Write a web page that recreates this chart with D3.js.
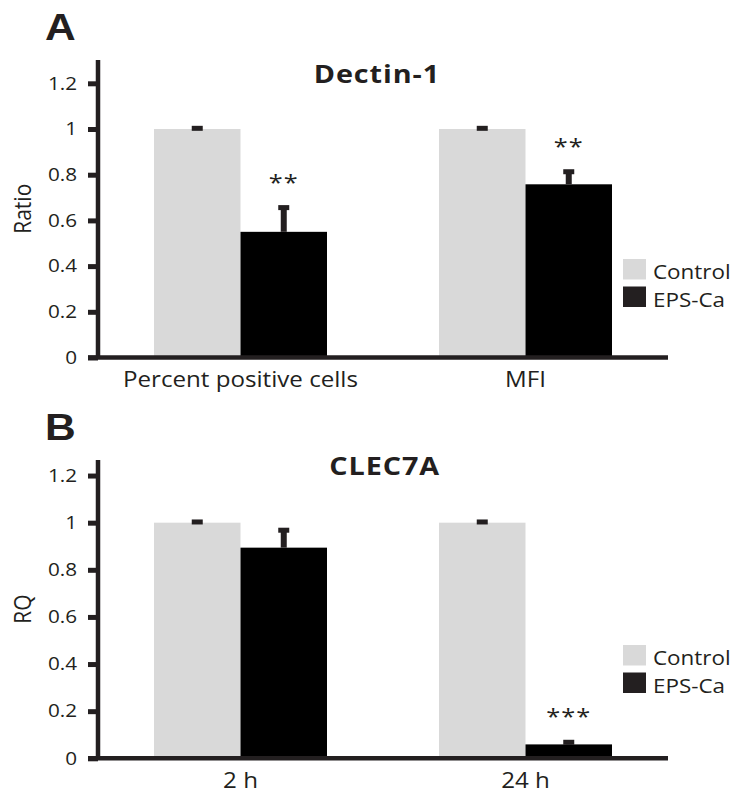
<!DOCTYPE html>
<html>
<head>
<meta charset="utf-8">
<script src="https://cdn.jsdelivr.net/npm/d3@7"></script>
<style>
  body { margin: 0; background: #fff; }
  svg text { font-family: 'Open Sans', sans-serif; fill: #231f20; }
</style>
</head>
<body>
<div id="chart"></div>
<script>
// data
const series = ['Control', 'EPS-Ca'];
const yTicks = [0, 0.2, 0.4, 0.6, 0.8, 1, 1.2];

const dectinCategories = ['Percent positive cells', 'MFI'];
const dectinControl = [1, 1];
const dectinControlErr = [0.003, 0.003];
const dectinEps = [0.55, 0.758];
const dectinEpsErr = [0.106, 0.055];
const dectinStars = ['**', '**'];

const clecCategories = ['2 h', '24 h'];
const clecControl = [1, 1];
const clecControlErr = [0.003, 0.003];
const clecEps = [0.894, 0.059];
const clecEpsErr = [0.074, 0.009];
const clecStars = ['', '***'];

// constants
const W = 739, H = 792;
const SX = 1.15; // the original figure is slightly stretched sideways
const colors = { 'Control': '#d9d9d9', 'EPS-Ca': '#000000' };
const legendColors = { 'Control': '#d9d9d9', 'EPS-Ca': '#231f20' };
const ink = '#231f20';
const left = 98, plotWidth = 570;

const panels = [
  {
    letter: 'A', title: 'Dectin-1', yLabel: 'Ratio',
    top: 60, zero: 357.5, yMax: 1.302, legendY: 259, letterY: 40, titleY: 83,
    categories: dectinCategories,
    control: dectinControl, controlErr: dectinControlErr,
    eps: dectinEps, epsErr: dectinEpsErr, stars: dectinStars
  },
  {
    letter: 'B', title: 'CLEC7A', yLabel: 'RQ',
    top: 460, zero: 758.3, yMax: 1.266, legendY: 645, letterY: 440, titleY: 475,
    categories: clecCategories,
    control: clecControl, controlErr: clecControlErr,
    eps: clecEps, epsErr: clecEpsErr, stars: clecStars
  }
];

const $svg = d3.select('#chart').append('svg')
  .attr('width', W)
  .attr('height', H);

function stretchAt(sel, x, y) {
  sel.attr('transform', `translate(${x},${y}) scale(${SX},1)`);
}

function drawPanel(p) {
  const rows = p.categories.map((c, i) => ({
    category: c,
    values: [
      { key: 'Control', value: p.control[i], err: p.controlErr[i] },
      { key: 'EPS-Ca', value: p.eps[i], err: p.epsErr[i] }
    ],
    stars: p.stars[i]
  }));

  const x0 = d3.scaleBand()
    .domain(p.categories)
    .range([0, plotWidth]);

  const x1 = d3.scaleBand()
    .domain(series)
    .range([(x0.bandwidth() - 173) / 2, (x0.bandwidth() + 173) / 2]);

  const y = d3.scaleLinear()
    .domain([0, p.yMax])
    .range([p.zero, p.top]);

  const $g = $svg.append('g')
    .attr('transform', `translate(${left},0)`);

  // bars
  const $groups = $g.selectAll('.group')
    .data(rows)
    .enter()
    .append('g')
    .attr('transform', d => `translate(${x0(d.category)},0)`);

  $groups.selectAll('.bar')
    .data(d => d.values)
    .enter()
    .append('rect')
    .attr('x', d => x1(d.key))
    .attr('width', x1.bandwidth())
    .attr('y', d => y(d.value))
    .attr('height', d => y(0) - y(d.value))
    .attr('fill', d => colors[d.key]);

  // error bars
  $groups.selectAll('.stem')
    .data(d => d.values)
    .enter()
    .append('rect')
    .attr('x', d => x1(d.key) + x1.bandwidth() / 2 - 3)
    .attr('width', 6)
    .attr('y', d => y(d.value + d.err))
    .attr('height', d => y(d.value) - y(d.value + d.err))
    .attr('fill', ink);

  $groups.selectAll('.cap')
    .data(d => d.values)
    .enter()
    .append('rect')
    .attr('x', d => x1(d.key) + x1.bandwidth() / 2 - 5.5)
    .attr('width', 11)
    .attr('y', d => y(d.value + d.err) - 2.5)
    .attr('height', 5)
    .attr('fill', ink);

  // significance stars
  $groups.append('text')
    .text(d => d.stars)
    .attr('text-anchor', 'middle')
    .style('font-size', '22px')
    .style('letter-spacing', '1px')
    .each(function(d) {
      const v = d.values[1];
      stretchAt(d3.select(this), x1('EPS-Ca') + x1.bandwidth() / 2, y(v.value + v.err) - 30 + 12);
    });

  // y axis
  const yAxis = d3.axisLeft(y)
    .tickValues(yTicks)
    .tickSize(10)
    .tickSizeOuter(0)
    .tickFormat(d3.format('~g'));

  const $yAxis = $g.append('g').call(yAxis);
  $yAxis.select('.domain').remove();
  $yAxis.selectAll('.tick line')
    .attr('stroke', ink)
    .attr('stroke-width', 5);
  $yAxis.selectAll('.tick text')
    .attr('x', -21 / SX)
    .attr('transform', `scale(${SX},1)`)
    .style('font-size', '18px')
    .style('font-family', "'Open Sans', sans-serif")
    .attr('fill', ink);

  $g.append('line')
    .attr('x1', 0).attr('x2', 0)
    .attr('y1', p.top).attr('y2', p.zero)
    .attr('stroke', ink)
    .attr('stroke-width', 4.5);

  // x axis
  const xAxis = d3.axisBottom(x0)
    .tickSize(0)
    .tickSizeOuter(0);

  const $xAxis = $g.append('g')
    .attr('transform', `translate(0,${p.zero})`)
    .call(xAxis);
  $xAxis.select('.domain').remove();
  $xAxis.selectAll('.tick text')
    .attr('y', 29.5)
    .attr('dy', 0)
    .attr('transform', `scale(${SX},1)`)
    .style('font-size', '21px')
    .style('font-family', "'Open Sans', sans-serif")
    .attr('fill', ink);

  $g.append('line')
    .attr('x1', -10).attr('x2', plotWidth)
    .attr('y1', p.zero).attr('y2', p.zero)
    .attr('stroke', ink)
    .attr('stroke-width', 4.5);

  // y label
  $svg.append('text')
    .text(p.yLabel)
    .attr('text-anchor', 'middle')
    .style('font-size', '21px')
    .attr('transform', `translate(31,${(p.top + p.zero) / 2}) rotate(-90) scale(1,${SX})`);

  // panel letter
  $svg.append('text')
    .text(p.letter)
    .style('font-family', "'Liberation Sans', Arial, sans-serif")
    .style('font-weight', 'bold')
    .style('font-size', '37px')
    .call(stretchAt, 45, p.letterY);

  // title
  $svg.append('text')
    .text(p.title)
    .attr('text-anchor', 'end')
    .style('font-weight', 'bold')
    .style('font-size', '25px')
    .style('letter-spacing', '0.8px')
    .call(stretchAt, 440, p.titleY);

  // legend
  const $legend = $svg.selectAll(null)
    .data(series)
    .enter()
    .append('g')
    .attr('transform', (d, i) => `translate(623,${p.legendY + i * 27.5})`);

  $legend.append('rect')
    .attr('width', 23)
    .attr('height', 20.5)
    .attr('fill', d => legendColors[d]);

  $legend.append('text')
    .text(d => d)
    .style('font-size', '19.5px')
    .call(stretchAt, 30, 20);
}

panels.forEach(drawPanel);
</script>
</body>
</html>
